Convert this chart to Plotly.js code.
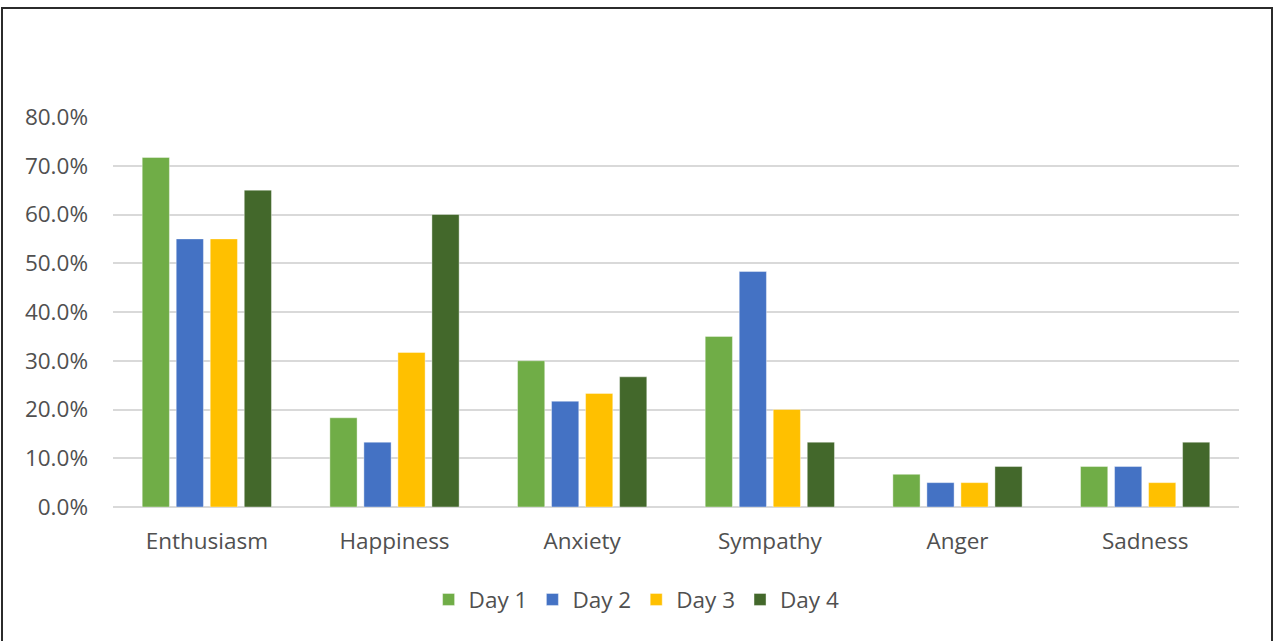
<!DOCTYPE html>
<html>
<head>
<meta charset="utf-8">
<script src="https://cdn.plot.ly/plotly-3.0.1.min.js"></script>
<style>
  html, body { margin: 0; padding: 0; background: #fff; }
  #wrap { position: relative; width: 1274px; height: 641px; overflow: hidden; }
  #chart { position: absolute; left: 0; top: 0; width: 1274px; height: 641px; }
  #frame { position: absolute; left: 1px; top: 7px; width: 1268px; height: 633px;
           border-left: 2px solid #2b2b2b; border-top: 2px solid #2b2b2b; border-right: 2px solid #2b2b2b;
           border-bottom: 1px solid #eeeeee; pointer-events: none; box-sizing: content-box; }
</style>
</head>
<body>
<div id="wrap">
  <div id="chart"></div>
  <div id="frame"></div>
</div>
<script>
const categories = ["Enthusiasm", "Happiness", "Anxiety", "Sympathy", "Anger", "Sadness"];
const seriesNames = ["Day 1", "Day 2", "Day 3", "Day 4"];
const day1 = [0.717, 0.183, 0.300, 0.350, 0.067, 0.083];
const day2 = [0.550, 0.133, 0.217, 0.483, 0.050, 0.083];
const day3 = [0.550, 0.317, 0.233, 0.200, 0.050, 0.050];
const day4 = [0.650, 0.600, 0.267, 0.133, 0.083, 0.133];
const colors = ["#70AD47", "#4472C4", "#FFC000", "#43682B"];
const yTicks = [0, 0.1, 0.2, 0.3, 0.4, 0.5, 0.6, 0.7, 0.8];

const seriesValues = [day1, day2, day3, day4];
const fam = "'Open Sans', 'Noto Sans', sans-serif";
const txtColor = "#505050";
const fsize = 22.5;

const traces = seriesValues.map((vals, i) => ({
  type: "bar",
  name: seriesNames[i],
  x: categories,
  y: vals,
  marker: { color: colors[i], line: { width: 0.8, color: "rgba(255,255,255,0.5)" } },
  hoverinfo: "x+y+name"
}));

const layout = {
  width: 1274, height: 641,
  margin: { l: 113, r: 35, t: 117, b: 134 },
  paper_bgcolor: "#ffffff",
  plot_bgcolor: "#ffffff",
  font: { family: fam, color: txtColor, size: fsize },
  barmode: "group",
  bargap: 0.275,
  bargroupgap: 0.2,
  showlegend: true,
  legend: {
    orientation: "h",
    x: 0.465, xanchor: "center",
    y: -0.238, yanchor: "middle",
    font: { family: fam, color: txtColor, size: fsize },
    itemclick: false, itemdoubleclick: false,
    traceorder: "normal"
  },
  xaxis: {
    type: "category",
    showgrid: false,
    showline: false,
    zeroline: false,
    ticks: "",
    ticklabelstandoff: 18,
    tickfont: { family: fam, color: txtColor, size: fsize }
  },
  yaxis: {
    range: [0, 0.8],
    tickvals: yTicks,
    tickformat: ".1%",
    showgrid: true,
    gridcolor: "#D9D9D9",
    gridwidth: 1.8,
    zeroline: true,
    zerolinecolor: "#D9D9D9",
    zerolinewidth: 1.8,
    showline: false,
    ticks: "",
    ticklabelstandoff: 24,
    tickfont: { family: fam, color: txtColor, size: fsize },
    fixedrange: true
  }
};

Plotly.newPlot("chart", traces, layout, { displayModeBar: false });
</script>
</body>
</html>
